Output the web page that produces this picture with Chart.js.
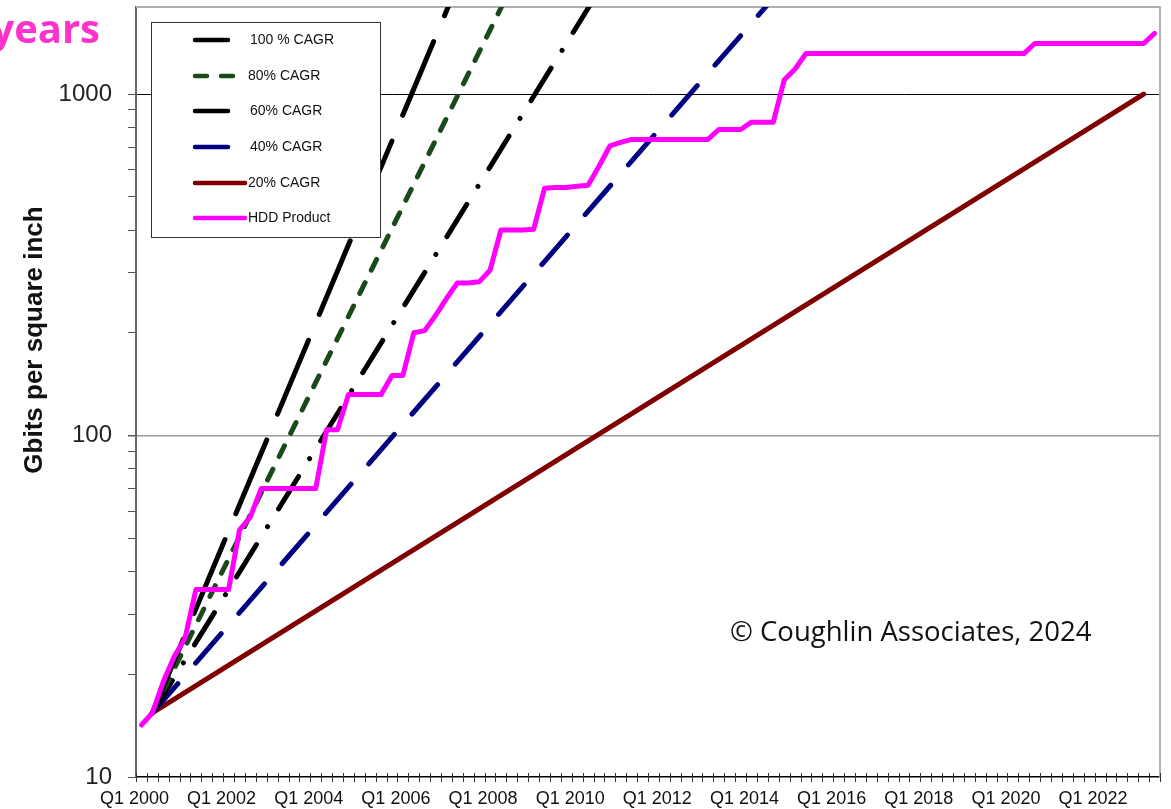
<!DOCTYPE html>
<html>
<head>
<meta charset="utf-8">
<script src="https://cdn.jsdelivr.net/npm/chart.js@4/dist/chart.umd.min.js"></script>
<style>
  html, body { margin: 0; padding: 0; background: #ffffff; }
  #wrap { width: 1171px; height: 809px; position: relative; }
  canvas { display: block; }
</style>
</head>
<body>
<div id="wrap"><canvas id="c" width="1171" height="809"></canvas></div>
<script>
// ---------- DATA ----------
const categories = [
  'Q1 2000','Q2 2000','Q3 2000','Q4 2000','Q1 2001','Q2 2001','Q3 2001','Q4 2001',
  'Q1 2002','Q2 2002','Q3 2002','Q4 2002','Q1 2003','Q2 2003','Q3 2003','Q4 2003',
  'Q1 2004','Q2 2004','Q3 2004','Q4 2004','Q1 2005','Q2 2005','Q3 2005','Q4 2005',
  'Q1 2006','Q2 2006','Q3 2006','Q4 2006','Q1 2007','Q2 2007','Q3 2007','Q4 2007',
  'Q1 2008','Q2 2008','Q3 2008','Q4 2008','Q1 2009','Q2 2009','Q3 2009','Q4 2009',
  'Q1 2010','Q2 2010','Q3 2010','Q4 2010','Q1 2011','Q2 2011','Q3 2011','Q4 2011',
  'Q1 2012','Q2 2012','Q3 2012','Q4 2012','Q1 2013','Q2 2013','Q3 2013','Q4 2013',
  'Q1 2014','Q2 2014','Q3 2014','Q4 2014','Q1 2015','Q2 2015','Q3 2015','Q4 2015',
  'Q1 2016','Q2 2016','Q3 2016','Q4 2016','Q1 2017','Q2 2017','Q3 2017','Q4 2017',
  'Q1 2018','Q2 2018','Q3 2018','Q4 2018','Q1 2019','Q2 2019','Q3 2019','Q4 2019',
  'Q1 2020','Q2 2020','Q3 2020','Q4 2020','Q1 2021','Q2 2021','Q3 2021','Q4 2021',
  'Q1 2022','Q2 2022','Q3 2022','Q4 2022','Q1 2023','Q2 2023'
];

const xTickLabels = ['Q1 2000','Q1 2002','Q1 2004','Q1 2006','Q1 2008','Q1 2010',
  'Q1 2012','Q1 2014','Q1 2016','Q1 2018','Q1 2020','Q1 2022'];

const yTickValues = [10,20,30,40,50,60,70,80,90,100,200,300,400,500,600,700,800,900,1000];
const yTickLabels = [10, 100, 1000];

const hddValues = [
  14.2, 15.4, 19.0, 22.5, 25.5, 35.4, 35.4, 35.4, 35.4, 52.9,
  57.8, 70, 70, 70, 70, 70, 70, 104, 104, 132,
  132, 132, 132, 150, 150, 200, 203, 225, 252, 280,
  280, 282, 305, 400, 400, 400, 402, 530, 533, 533,
  537, 541, 615, 705, 722, 737, 737, 737, 737, 737,
  737, 737, 737, 788, 788, 788, 828, 828, 828, 1100,
  1185, 1315, 1315, 1315, 1315, 1315, 1315, 1315, 1315, 1315,
  1315, 1315, 1315, 1315, 1315, 1315, 1315, 1315, 1315, 1315,
  1315, 1315, 1407, 1407, 1407, 1407, 1407, 1407, 1407, 1407,
  1407, 1407, 1407, 1506
];

const cagr100 = [{x: 'Q2 2000', y: 15.4}, {x: 'Q2 2007', y: 2090}];
const cagr80  = [{x: 'Q2 2000', y: 15.4}, {x: 'Q3 2008', y: 2075}];
const cagr60  = [{x: 'Q2 2000', y: 15.4}, {x: 'Q3 2010', y: 2010}];
const cagr40  = [{x: 'Q2 2000', y: 15.4}, {x: 'Q4 2014', y: 2080}];
const cagr20  = [{x: 'Q2 2000', y: 15.4}, {x: 'Q1 2023', y: 1000}];

const seriesLabels = ['100 % CAGR', '80% CAGR', '60% CAGR', '40% CAGR', '20% CAGR', 'HDD Product'];

// ---------- PLUGINS ----------
const decor = {
  id: 'decor',
  beforeDatasetsDraw(chart) {
    const ctx = chart.ctx, a = chart.chartArea;
    ctx.save();
    ctx.strokeStyle = '#b0b0b0';
    ctx.lineWidth = 2;
    ctx.beginPath();
    ctx.moveTo(a.left, a.top);
    ctx.lineTo(a.right, a.top);
    ctx.lineTo(a.right, a.bottom);
    ctx.stroke();
    ctx.restore();
  },
  afterDraw(chart) {
    const ctx = chart.ctx, a = chart.chartArea;
    const xs = chart.scales.x;
    ctx.save();
    // x-axis tick marks crossing the axis at category boundaries
    const step = xs.getPixelForValue(1) - xs.getPixelForValue(0);
    ctx.strokeStyle = '#333';
    ctx.lineWidth = 1;
    ctx.beginPath();
    for (let i = 0; i <= categories.length; i++) {
      const x = Math.round(xs.getPixelForValue(i) - step / 2) + 0.5;
      ctx.moveTo(x, a.bottom - 4);
      ctx.lineTo(x, a.bottom + 5);
    }
    ctx.stroke();

    // legend
    const bx = 151, by = 22, bw = 229, bh = 215;
    ctx.fillStyle = '#ffffff';
    ctx.fillRect(bx, by, bw, bh);
    ctx.strokeStyle = '#333';
    ctx.lineWidth = 1;
    ctx.strokeRect(bx + 0.5, by + 0.5, bw, bh);
    const rows = [40, 76, 111, 147, 183, 218];
    const sampleEnd = [230, 247, 230, 230, 247, 247];
    const textX = [250, 248, 250, 250, 248, 248];
    ctx.font = '14px "Liberation Sans", Arial, sans-serif';
    ctx.textBaseline = 'middle';
    chart.data.datasets.forEach((ds, i) => {
      const y = rows[i];
      ctx.save();
      ctx.strokeStyle = ds.borderColor;
      ctx.lineWidth = ds.borderWidth - 0.5;
      ctx.lineCap = ds.borderCapStyle || 'butt';
      ctx.setLineDash(ds.borderDash || []);
      ctx.beginPath();
      ctx.moveTo(195, y);
      ctx.lineTo(sampleEnd[i] - 2, y);
      ctx.stroke();
      ctx.restore();
      ctx.fillStyle = '#111';
      ctx.textAlign = 'left';
      ctx.fillText(ds.label, textX[i], y);
    });

    // y axis title
    ctx.save();
    ctx.translate(35, 340);
    ctx.rotate(-Math.PI / 2);
    ctx.font = 'bold 26px "Liberation Sans", Arial, sans-serif';
    ctx.fillStyle = '#111';
    ctx.textAlign = 'center';
    ctx.textBaseline = 'middle';
    ctx.fillText('Gbits per square inch', 0, 0);
    ctx.restore();

    // copyright
    ctx.font = '27.5px "Open Sans", sans-serif';
    ctx.fillStyle = '#111';
    ctx.textAlign = 'left';
    ctx.textBaseline = 'alphabetic';
    ctx.fillText('\u00A9 Coughlin Associates, 2024', 730, 641);

    // title fragment
    ctx.font = 'bold 40px "Open Sans", sans-serif';
    ctx.fillStyle = '#ff33cc';
    ctx.textAlign = 'right';
    ctx.fillText('years', 100, 43);
    ctx.restore();
  }
};

// ---------- CHART ----------
const common = { pointRadius: 0, pointHoverRadius: 0, tension: 0, fill: false,
  borderWidth: 5, borderCapStyle: 'round', borderJoinStyle: 'round',
  clip: {left: 6, right: 6, top: 0, bottom: 6} };

new Chart(document.getElementById('c'), {
  type: 'line',
  data: {
    labels: categories,
    datasets: [
      Object.assign({}, common, { label: seriesLabels[0], data: cagr100, borderColor: '#000000', borderDash: [80, 28], order: 1 }),
      Object.assign({}, common, { label: seriesLabels[1], data: cagr80, borderColor: '#1a4a1a', borderDash: [12, 14], order: 2 }),
      Object.assign({}, common, { label: seriesLabels[2], data: cagr60, borderColor: '#000000', borderDash: [38, 21, 0.01, 21], order: 3 }),
      Object.assign({}, common, { label: seriesLabels[3], data: cagr40, borderColor: '#000080', borderDash: [39, 27], order: 4 }),
      Object.assign({}, common, { label: seriesLabels[4], data: cagr20, borderColor: '#800000', order: 5 }),
      Object.assign({}, common, { label: seriesLabels[5], data: hddValues, borderColor: '#ff00ff', order: 0 })
    ]
  },
  options: {
    responsive: false,
    animation: false,
    devicePixelRatio: 1,
    layout: { padding: { top: 7, right: 11, left: 0, bottom: 0 } },
    plugins: { legend: { display: false }, tooltip: { enabled: false } },
    scales: {
      x: {
        type: 'category',
        offset: true,
        grid: { display: true, drawOnChartArea: false, drawTicks: false, offset: true, color: 'rgba(0,0,0,0)' },
        border: { display: true, color: '#000', width: 1.5 },
        ticks: {
          autoSkip: false, maxRotation: 0, minRotation: 0, padding: 11,
          labelOffset: -7,
          color: '#111',
          font: { family: '"Liberation Sans", Arial, sans-serif', size: 18 },
          callback: function(value) {
            const lab = this.getLabelForValue(value);
            return xTickLabels.includes(lab) ? lab : '';
          }
        },
        afterFit(scale) { scale.height = 32; scale.paddingLeft = 0; scale.paddingRight = 0; }
      },
      y: {
        type: 'logarithmic',
        min: 10,
        max: 1800,
        afterBuildTicks(scale) { scale.ticks = yTickValues.map(v => ({ value: v })); },
        afterFit(scale) { scale.width = 136; scale.paddingTop = 0; scale.paddingBottom = 0; },
        grid: {
          drawTicks: true,
          tickLength: 8,
          tickColor: '#555',
          lineWidth: (c) => (c.tick && c.tick.value === 100 ? 1.5 : 1),
          color: (c) => {
            if (!c.tick) return 'rgba(0,0,0,0)';
            if (c.tick.value === 1000) return '#000000';
            if (c.tick.value === 100) return '#9a9a9a';
            return 'rgba(0,0,0,0)';
          }
        },
        border: { display: true, color: '#666', width: 2 },
        ticks: {
          padding: 16,
          color: '#222',
          font: { family: '"Liberation Sans", Arial, sans-serif', size: 24 },
          callback: (v) => (yTickLabels.includes(v) ? String(v) : '')
        }
      }
    }
  },
  plugins: [decor]
});
</script>
</body>
</html>
